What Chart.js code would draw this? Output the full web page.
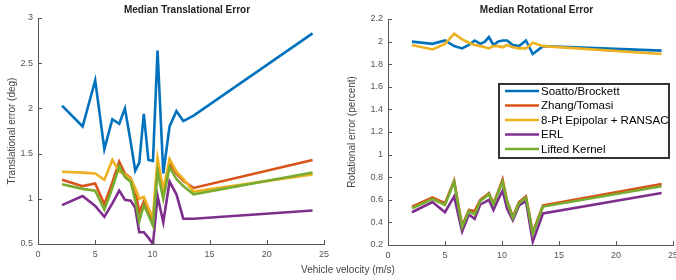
<!DOCTYPE html>
<html>
<head>
<meta charset="utf-8">
<script src="https://cdn.jsdelivr.net/npm/chart.js@4"></script>
<style>
    html, body { margin: 0; padding: 0; background: #fff; overflow: hidden; }
    body { width: 676px; height: 280px; position: relative; font-family: "Liberation Sans", Arial, sans-serif; }
    .pane { position: absolute; top: 0; height: 280px; }
    #xLabel { position: absolute; left: 248px; top: 264px; width: 200px; text-align: center;
              font-size: 10px; line-height: 12px; color: #444; }
</style>
</head>
<body>
<div class="pane" style="left:0;width:340px;"><canvas id="transChart" width="340" height="280"></canvas></div>
<div class="pane" style="left:340px;width:350px;"><canvas id="rotChart" width="350" height="280"></canvas></div>
<div id="xLabel">Vehicle velocity (m/s)</div>
<script>
// vehicle velocity of each run (m/s)
const velocity = [2.1, 3.9, 5.0, 5.8, 6.5, 7.1, 7.6, 8.1, 8.5, 8.85, 9.25, 9.65, 10.05, 10.45, 10.95, 11.5, 12.1, 12.7, 13.6, 24];

const methodNames = ['Soatto/Brockett', 'Zhang/Tomasi', '8-Pt Epipolar + RANSAC', 'ERL', 'Lifted Kernel'];
const methodColors = ['#0072BD', '#D95319', '#EDB120', '#7E2F8E', '#77AC30'];

// median translational error (deg)
const soattoTrans   = [2.03, 1.80, 2.31, 1.55, 1.88, 1.83, 2.00, 1.63, 1.31, 1.40, 1.94, 1.43, 1.42, 2.64, 1.28, 1.80, 1.97, 1.86, 1.92, 2.83];
const zhangTrans    = [1.21, 1.14, 1.17, 0.94, 1.18, 1.41, 1.28, 1.23, 1.10, 0.85, 0.97, 0.85, 0.75, 1.36, 1.04, 1.39, 1.28, 1.20, 1.12, 1.43];
const epipolarTrans = [1.30, 1.29, 1.28, 1.21, 1.43, 1.30, 1.27, 1.22, 1.12, 1.00, 1.02, 0.90, 0.79, 1.45, 1.10, 1.44, 1.30, 1.22, 1.08, 1.27];
const erlTrans      = [0.93, 1.03, 0.92, 0.80, 0.95, 1.09, 0.99, 0.98, 0.90, 0.63, 0.63, 0.57, 0.50, 1.03, 0.74, 1.19, 1.05, 0.78, 0.78, 0.87];
const liftedTrans   = [1.16, 1.11, 1.09, 0.88, 1.12, 1.36, 1.24, 1.19, 0.98, 0.75, 0.93, 0.82, 0.70, 1.30, 1.00, 1.35, 1.22, 1.14, 1.05, 1.29];

// median rotational error (percent)
const soattoRot   = [2.00, 1.98, 2.01, 1.96, 1.94, 1.97, 2.01, 1.98, 2.00, 2.04, 1.97, 2.00, 2.01, 2.01, 1.97, 1.96, 2.01, 1.89, 1.96, 1.92];
const zhangRot    = [0.54, 0.62, 0.57, 0.77, 0.37, 0.51, 0.50, 0.60, 0.63, 0.66, 0.57, 0.67, 0.78, 0.59, 0.45, 0.58, 0.63, 0.31, 0.55, 0.74];
const epipolarRot = [1.97, 1.93, 1.98, 2.07, 2.02, 1.99, 1.97, 1.96, 1.95, 1.94, 1.96, 1.96, 1.95, 1.97, 1.95, 1.94, 1.94, 1.99, 1.96, 1.89];
const erlRot      = [0.49, 0.58, 0.49, 0.63, 0.32, 0.47, 0.43, 0.56, 0.58, 0.60, 0.51, 0.60, 0.68, 0.52, 0.42, 0.55, 0.59, 0.23, 0.48, 0.66];
const liftedRot   = [0.525, 0.607, 0.554, 0.76, 0.36, 0.50, 0.47, 0.59, 0.62, 0.65, 0.56, 0.66, 0.76, 0.58, 0.44, 0.57, 0.62, 0.30, 0.54, 0.72];

const FONT = '"Liberation Sans", Arial, sans-serif';
const AXIS_COLOR = '#555';

// matlab style: ticks pointing into the plot, bold title over the axes
const axesDecor = {
    id: 'axesDecor',
    afterDraw(chart, args, opts) {
        const ctx = chart.ctx;
        const area = chart.chartArea;
        const xs = chart.scales.x, ys = chart.scales.y;
        ctx.save();
        ctx.strokeStyle = AXIS_COLOR;
        ctx.lineWidth = 1;
        ctx.beginPath();
        xs.ticks.forEach(t => {
            const px = Math.round(xs.getPixelForValue(t.value)) + 0.5;
            ctx.moveTo(px, area.bottom);
            ctx.lineTo(px, area.bottom - 4);
        });
        ys.ticks.forEach(t => {
            const py = Math.round(ys.getPixelForValue(t.value)) + 0.5;
            ctx.moveTo(area.left, py);
            ctx.lineTo(area.left + 4, py);
        });
        ctx.stroke();
        ctx.fillStyle = '#222';
        ctx.font = 'bold 10px ' + FONT;
        ctx.textAlign = 'center';
        ctx.textBaseline = 'middle';
        ctx.fillText(opts.title, (area.left + area.right) / 2 + (opts.dx || 0), 10);
        ctx.restore();
    }
};

// boxed legend placed inside the rotational plot
const boxLegend = {
    id: 'boxLegend',
    afterDraw(chart, args, opts) {
        if (!opts.show) return;
        const ctx = chart.ctx;
        const {left, top, width, height, rowGap, lineLen} = opts;
        ctx.save();
        ctx.fillStyle = '#fff';
        ctx.fillRect(left, top, width, height);
        ctx.strokeStyle = '#333';
        ctx.lineWidth = 2;
        ctx.strokeRect(left, top, width, height);
        ctx.font = '11.5px ' + FONT;
        ctx.textBaseline = 'middle';
        ctx.textAlign = 'left';
        chart.data.datasets.forEach((ds, i) => {
            const y = top + 7 + i * rowGap;
            ctx.strokeStyle = ds.borderColor;
            ctx.lineWidth = 2.5;
            ctx.beginPath();
            ctx.moveTo(left + 6, y);
            ctx.lineTo(left + 6 + lineLen, y);
            ctx.stroke();
            ctx.fillStyle = '#000';
            ctx.fillText(ds.label, left + 8 + lineLen, y + 0.5);
        });
        ctx.restore();
    }
};

function buildDatasets(seriesList) {
    return seriesList.map((values, i) => ({
        label: methodNames[i],
        data: velocity.map((v, k) => ({x: v, y: values[k]})),
        borderColor: methodColors[i],
        backgroundColor: methodColors[i],
        borderWidth: 2.6,
        pointRadius: 0,
        tension: 0,
        fill: false,
        order: seriesList.length - i
    }));
}

function tickText(v) {
    return String(+Number(v).toFixed(2));
}

function makeChart(canvasId, cfg) {
    return new Chart(document.getElementById(canvasId), {
        type: 'line',
        data: { datasets: buildDatasets(cfg.series) },
        options: {
            responsive: false,
            animation: false,
            layout: { padding: cfg.padding },
            plugins: {
                legend: { display: false },
                tooltip: { enabled: false },
                axesDecor: { title: cfg.title, dx: 6 },
                boxLegend: cfg.legend || { show: false }
            },
            scales: {
                x: {
                    type: 'linear',
                    min: 0, max: 25,
                    ticks: { stepSize: 5, color: AXIS_COLOR, font: { size: 9, family: FONT }, padding: 5,
                             maxRotation: 0, callback: tickText },
                    grid: { display: false, drawTicks: false },
                    border: { color: AXIS_COLOR, width: 1 },
                    afterFit: s => { s.height = 22; }
                },
                y: {
                    min: cfg.yMin, max: cfg.yMax,
                    ticks: { stepSize: cfg.yStep, color: AXIS_COLOR, font: { size: 9, family: FONT }, padding: 5,
                             callback: tickText },
                    grid: { display: false, drawTicks: false },
                    border: { color: AXIS_COLOR, width: 1 },
                    title: { display: true, text: cfg.yTitle, color: '#444', font: { size: 10, family: FONT },
                             padding: { top: 6, bottom: 0 } },
                    afterFit: s => { s.width = cfg.yWidth; }
                }
            }
        },
        plugins: [axesDecor, boxLegend]
    });
}

makeChart('transChart', {
    series: [soattoTrans, zhangTrans, epipolarTrans, erlTrans, liftedTrans],
    title: 'Median Translational Error',
    yTitle: 'Translational error (deg)',
    yMin: 0.5, yMax: 3, yStep: 0.5,
    yWidth: 38,
    padding: { left: 0, right: 16, top: 18, bottom: 14 }
});

makeChart('rotChart', {
    series: [soattoRot, zhangRot, epipolarRot, erlRot, liftedRot],
    title: 'Median Rotational Error',
    yTitle: 'Rotational error (percent)',
    yMin: 0.2, yMax: 2.2, yStep: 0.2,
    yWidth: 48,
    padding: { left: 0, right: 17, top: 19, bottom: 13 },
    legend: { show: true, left: 159, top: 84, width: 170, height: 74, rowGap: 14.5, lineLen: 34 }
});
</script>
</body>
</html>
